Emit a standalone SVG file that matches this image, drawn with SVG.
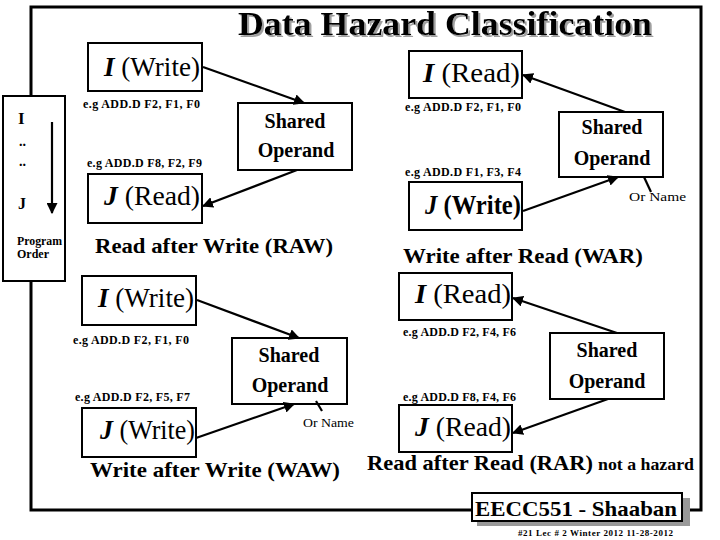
<svg xmlns="http://www.w3.org/2000/svg" width="720" height="540" viewBox="0 0 720 540" font-family="'Liberation Serif', serif">
<defs>
<style>
.b{font-weight:bold}
.box{fill:#fff;stroke:#000;stroke-width:2}
.node{font-size:27px}
.so{font-size:20px;font-weight:bold;text-anchor:middle}
.eg{font-size:12px;font-weight:bold}
.cap{font-size:21px;font-weight:bold}
.on{font-size:12px}
.con{stroke:#000;stroke-width:2.2;fill:none}
</style>
<filter id="sh" x="-5%" y="-20%" width="110%" height="140%">
<feOffset in="SourceAlpha" dx="2" dy="2" result="o"/>
<feFlood flood-color="#a0a0a0"/>
<feComposite in2="o" operator="in" result="s"/>
<feMerge><feMergeNode in="s"/><feMergeNode in="SourceGraphic"/></feMerge>
</filter>
<marker id="ah" viewBox="0 0 10 10" refX="9" refY="5" markerWidth="5" markerHeight="5" orient="auto" markerUnits="strokeWidth">
<path d="M0,0 L10,5 L0,10 Z" fill="#000"/>
</marker>
</defs>
<rect width="720" height="540" fill="#fff"/>
<g id="frame" fill="none" stroke="#000" stroke-width="3">
<path d="M31,98 V7 H701 V510 H688"/>
<path d="M472,510 H31 V280"/>
</g>
<g id="title">
<text x="238" y="35" font-family="'Liberation Serif', serif" font-size="34" font-weight="bold" filter="url(#sh)" textLength="414" lengthAdjust="spacingAndGlyphs">Data Hazard Classification</text>
</g>
<g id="program-order" font-family="'Liberation Serif', serif">
<rect x="3" y="96" width="62" height="185" class="box"/>
<text x="18" y="124" font-size="17" font-weight="bold">I</text>
<text x="19" y="146" font-size="14" font-weight="bold">..</text>
<text x="19" y="166" font-size="14" font-weight="bold">..</text>
<text x="18" y="209" font-size="16" font-weight="bold">J</text>
<line x1="52" y1="122" x2="52" y2="213" class="con" marker-end="url(#ah)"/>
<text x="17" y="245" font-size="12" font-weight="bold" textLength="45" lengthAdjust="spacingAndGlyphs">Program</text>
<text x="17" y="258" font-size="12" font-weight="bold">Order</text>
</g>
<g id="raw-i" font-family="'Liberation Serif', serif">
<rect x="88" y="43" width="114" height="48" class="box"/>
<text x="104" y="76" font-size="27" textLength="96" lengthAdjust="spacingAndGlyphs"><tspan font-weight="bold" font-style="italic">I</tspan> (Write)</text>
<text x="83" y="108" font-size="12" font-weight="bold" textLength="117" lengthAdjust="spacing">e.g ADD.D F2, F1, F0</text>
</g>
<g id="raw-shared" font-family="'Liberation Serif', serif">
<rect x="238" y="103" width="114" height="67" class="box"/>
<text x="295" y="128" class="so">Shared</text>
<text x="296" y="157" class="so">Operand</text>
</g>
<g id="raw-j" font-family="'Liberation Serif', serif">
<text x="87" y="167" font-size="12" font-weight="bold" textLength="115" lengthAdjust="spacing">e.g ADD.D F8, F2, F9</text>
<rect x="88" y="174" width="114" height="49" class="box"/>
<text x="104" y="205" font-size="27" textLength="96" lengthAdjust="spacingAndGlyphs"><tspan font-weight="bold" font-style="italic">J</tspan> (Read)</text>
<text x="95" y="253" font-size="21" font-weight="bold" textLength="238" lengthAdjust="spacingAndGlyphs">Read after Write  (RAW)</text>
</g>
<g id="war-i" font-family="'Liberation Serif', serif">
<rect x="409" y="51" width="113" height="47" class="box"/>
<text x="423" y="82" font-size="27" textLength="97" lengthAdjust="spacingAndGlyphs"><tspan font-weight="bold" font-style="italic">I</tspan> (Read)</text>
<text x="405" y="111" font-size="12" font-weight="bold" textLength="116" lengthAdjust="spacing">e.g ADD.D F2, F1, F0</text>
</g>
<g id="war-shared" font-family="'Liberation Serif', serif">
<rect x="559" y="112" width="104" height="65" class="box"/>
<text x="612" y="134" class="so">Shared</text>
<text x="612" y="165" class="so">Operand</text>
<text x="629" y="201" font-size="12" textLength="57" lengthAdjust="spacingAndGlyphs">Or Name</text>
</g>
<g id="war-j" font-family="'Liberation Serif', serif">
<text x="405" y="176" font-size="12" font-weight="bold" textLength="116" lengthAdjust="spacing">e.g ADD.D F1, F3, F4</text>
<rect x="409" y="182" width="113" height="48" class="box"/>
<text x="425" y="214" font-size="27" font-weight="bold" textLength="96" lengthAdjust="spacingAndGlyphs"><tspan font-style="italic">J</tspan> (Write)</text>
<text x="403" y="263" font-size="21" font-weight="bold" textLength="240" lengthAdjust="spacingAndGlyphs">Write after Read (WAR)</text>
</g>
<g id="waw-i" font-family="'Liberation Serif', serif">
<rect x="82" y="276" width="114" height="49" class="box"/>
<text x="98" y="307" font-size="27" textLength="96" lengthAdjust="spacingAndGlyphs"><tspan font-weight="bold" font-style="italic">I</tspan> (Write)</text>
<text x="73" y="344" font-size="12" font-weight="bold" textLength="116" lengthAdjust="spacing">e.g ADD.D F2, F1, F0</text>
</g>
<g id="waw-shared" font-family="'Liberation Serif', serif">
<rect x="232" y="338" width="115" height="66" class="box"/>
<text x="289" y="362" class="so">Shared</text>
<text x="290" y="392" class="so">Operand</text>
<text x="303" y="427" font-size="12" textLength="51" lengthAdjust="spacingAndGlyphs">Or Name</text>
</g>
<g id="waw-j" font-family="'Liberation Serif', serif">
<text x="75" y="401" font-size="12" font-weight="bold" textLength="115" lengthAdjust="spacing">e.g ADD.D F2, F5, F7</text>
<rect x="82" y="408" width="114" height="49" class="box"/>
<text x="100" y="439" font-size="27" textLength="95" lengthAdjust="spacingAndGlyphs"><tspan font-weight="bold" font-style="italic">J</tspan> (Write)</text>
<text x="90" y="477" font-size="21" font-weight="bold" textLength="250" lengthAdjust="spacingAndGlyphs">Write after Write  (WAW)</text>
</g>
<g id="rar-i" font-family="'Liberation Serif', serif">
<rect x="399" y="273" width="113" height="47" class="box"/>
<text x="415" y="303" font-size="27" textLength="96" lengthAdjust="spacingAndGlyphs"><tspan font-weight="bold" font-style="italic">I</tspan> (Read)</text>
<text x="403" y="336" font-size="12" font-weight="bold" textLength="113" lengthAdjust="spacing">e.g ADD.D F2, F4, F6</text>
</g>
<g id="rar-shared" font-family="'Liberation Serif', serif">
<rect x="550" y="333" width="114" height="66" class="box"/>
<text x="607" y="357" class="so">Shared</text>
<text x="607" y="388" class="so">Operand</text>
</g>
<g id="rar-j" font-family="'Liberation Serif', serif">
<text x="403" y="401" font-size="12" font-weight="bold" textLength="113" lengthAdjust="spacing">e.g ADD.D F8, F4, F6</text>
<rect x="399" y="405" width="113" height="47" class="box"/>
<text x="415" y="436" font-size="27" textLength="96" lengthAdjust="spacingAndGlyphs"><tspan font-weight="bold" font-style="italic">J</tspan> (Read)</text>
<text x="367" y="470" font-size="21" font-weight="bold" textLength="226" lengthAdjust="spacingAndGlyphs">Read after Read  (RAR)</text>
<text x="598" y="470" font-size="16" font-weight="bold" textLength="96" lengthAdjust="spacingAndGlyphs">not a hazard</text>
</g>
<g id="connectors">
<line x1="203" y1="67" x2="304" y2="103" class="con" marker-end="url(#ah)"/>
<line x1="297" y1="170" x2="203" y2="206" class="con" marker-end="url(#ah)"/>
<line x1="625" y1="112" x2="523" y2="75" class="con" marker-end="url(#ah)"/>
<line x1="523" y1="211" x2="618" y2="177" class="con" marker-end="url(#ah)"/>
<line x1="197" y1="300" x2="299" y2="338" class="con" marker-end="url(#ah)"/>
<line x1="196" y1="438" x2="294" y2="404" class="con" marker-end="url(#ah)"/>
<line x1="617" y1="333" x2="513" y2="298" class="con" marker-end="url(#ah)"/>
<line x1="608" y1="399" x2="513" y2="433" class="con" marker-end="url(#ah)"/>
<line x1="644" y1="177" x2="651" y2="192" class="con"/>
<line x1="316" y1="401" x2="322" y2="411" class="con"/>
</g>
<g id="footer" font-family="'Liberation Serif', serif">
<rect x="477" y="498" width="213" height="28" fill="#999"/>
<rect x="472" y="493" width="210" height="28" class="box"/>
<text x="475" y="516" font-size="22" font-weight="bold" textLength="202" lengthAdjust="spacingAndGlyphs">EECC551 - Shaaban</text>
<text x="518" y="536" font-size="9" font-weight="bold" textLength="155" lengthAdjust="spacing">#21  Lec # 2  Winter 2012  11-28-2012</text>
</g>
</svg>
